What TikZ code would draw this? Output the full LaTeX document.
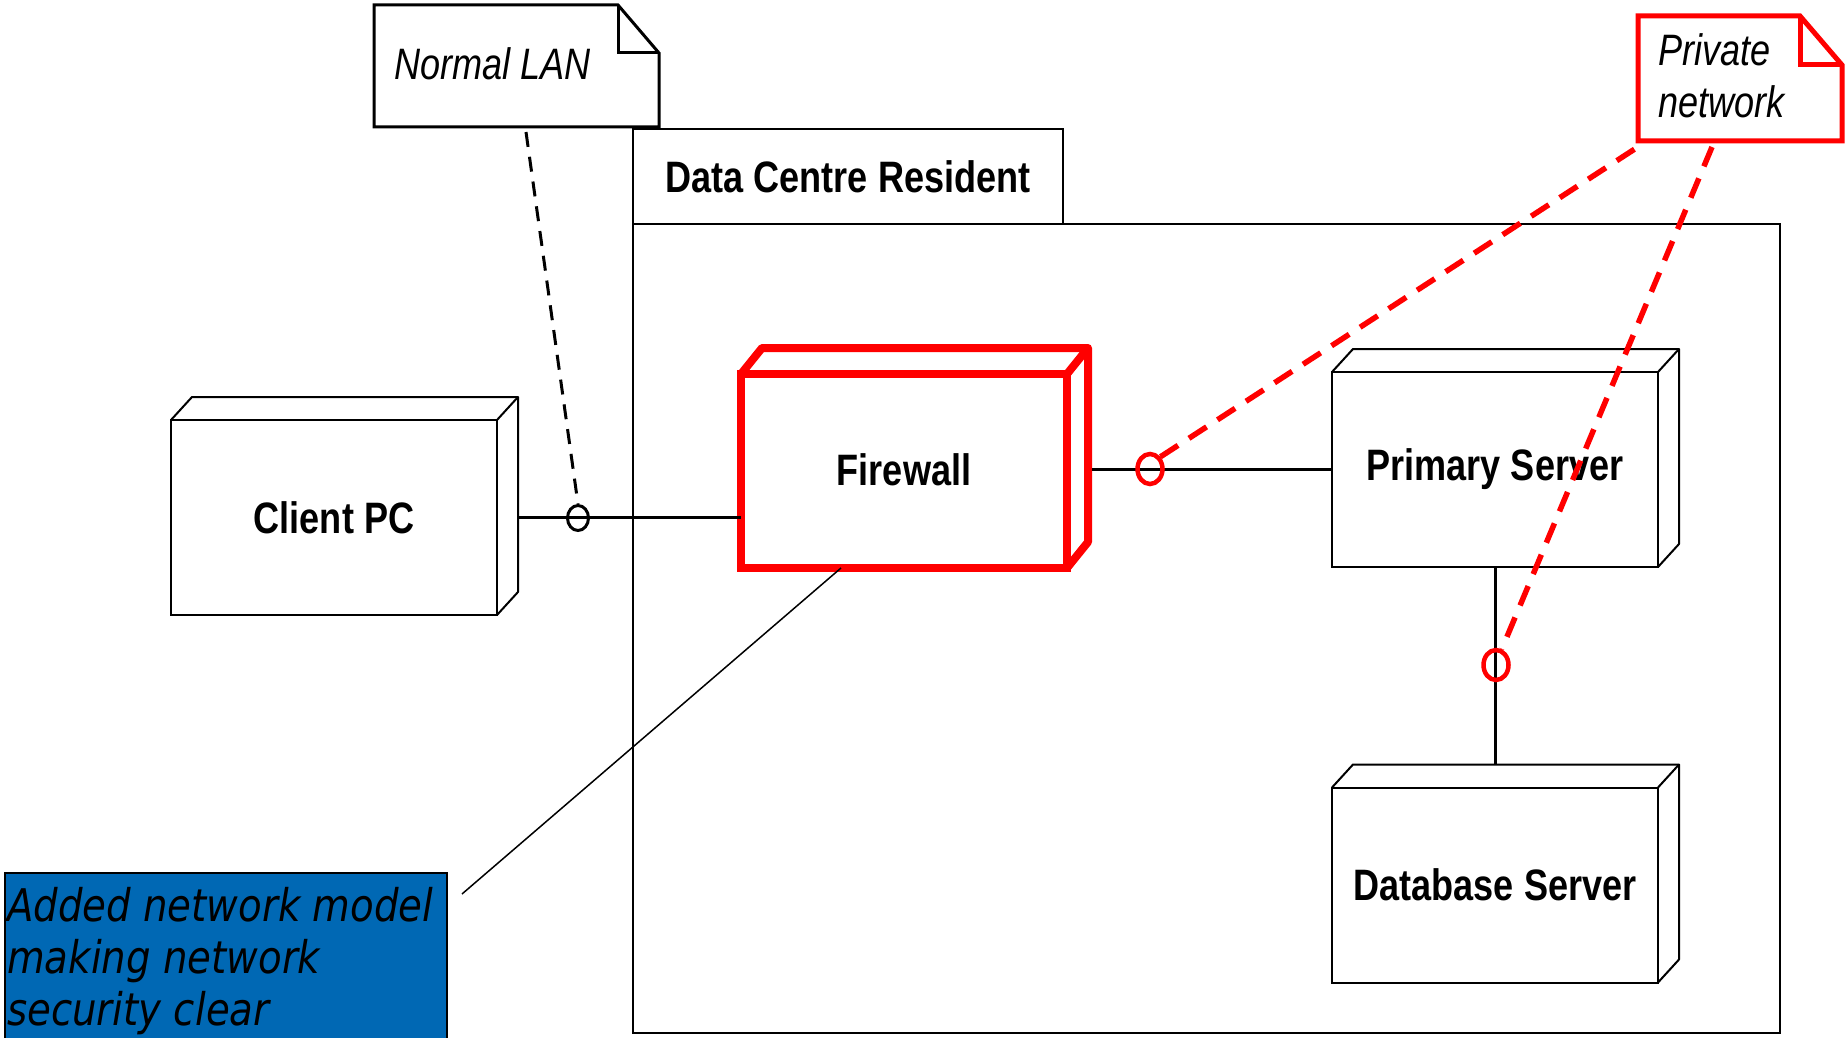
\documentclass[tikz,border=0pt]{standalone}
\usepackage{fontspec}
\setmainfont{Liberation Sans}
\newfontfamily\lblfont[FakeStretch=0.82]{Liberation Sans}
\newfontfamily\notefont[FakeStretch=0.86]{DejaVu Sans}
\usetikzlibrary{shapes.geometric}
\definecolor{noteblue}{RGB}{0,104,180}
\definecolor{netred}{RGB}{255,0,0}
\begin{document}
\begin{tikzpicture}[x=1pt,y=-1pt,
  lbl/.style={font=\lblfont\bfseries\fontsize{44}{53}\selectfont},
  nodebox/.style={draw, line width=2pt, fill=white, minimum width=326pt, minimum height=195pt, inner sep=0pt, outer sep=0pt, lbl},
  extr/.style={draw, line width=2pt, line join=round},
  conn/.style={line width=3pt},
  port/.style={draw, ellipse, line width=3pt, minimum width=21pt, minimum height=25pt, inner sep=0pt, fill=none},
  rport/.style={draw=netred, ellipse, line width=4.5pt, minimum width=25pt, minimum height=30pt, inner sep=0pt},
  bdash/.style={line width=3pt, dash pattern=on 15pt off 10pt},
  rdash/.style={draw=netred, line width=5.5pt, dash pattern=on 21pt off 13pt},
]
\useasboundingbox (0,0) rectangle (1845,1038);
\fill[white] (0,0) rectangle (1845,1038);

% package
\node[draw, line width=1.5pt, minimum width=430pt, minimum height=95pt, inner sep=0pt, outer sep=0pt, anchor=north west, lbl] (tab) at (633,129) {Data Centre Resident};
\node[draw, line width=1.5pt, minimum width=1147pt, minimum height=809pt, inner sep=0pt, outer sep=0pt, anchor=north west] (pkg) at (633,224) {};

% nodes
\node[nodebox] (client) at (334,517.5) {Client PC};
\draw[extr] (client.north west) -- ([shift={(21,-23)}]client.north west) -- ([shift={(21,-23)}]client.north east) -- ([shift={(21,-23)}]client.south east) -- (client.south east);
\draw[extr] (client.north east) -- ([shift={(21,-23)}]client.north east);

\node[nodebox, draw=netred, line width=8pt, minimum height=194pt] (fw) at (904,471) {\raisebox{2pt}{Firewall}};
\draw[extr, draw=netred, line width=8pt] (fw.north west) -- ([shift={(21,-26)}]fw.north west) -- ([shift={(21,-26)}]fw.north east) -- ([shift={(21,-26)}]fw.south east) -- (fw.south east);
\draw[extr, draw=netred, line width=8pt] (fw.north east) -- ([shift={(21,-26)}]fw.north east);

\node[nodebox] (prim) at (1495,469.5) {\raisebox{-2pt}{Primary Server}};
\draw[extr] (prim.north west) -- ([shift={(21,-23)}]prim.north west) -- ([shift={(21,-23)}]prim.north east) -- ([shift={(21,-23)}]prim.south east) -- (prim.south east);
\draw[extr] (prim.north east) -- ([shift={(21,-23)}]prim.north east);

\node[nodebox] (db) at (1495,885) {Database Server};
\draw[extr] (db.north west) -- ([shift={(21,-23)}]db.north west) -- ([shift={(21,-23)}]db.north east) -- ([shift={(21,-23)}]db.south east) -- (db.south east);
\draw[extr] (db.north east) -- ([shift={(21,-23)}]db.north east);

% connectors
\coordinate (clientport) at ([xshift=21pt]client.east);
\draw[conn] (clientport) -- (clientport -| fw.west);
\node[port] (p1) at (578,518) {};
\coordinate (fwport) at ([xshift=25pt]fw.east |- prim.west);
\draw[conn] (fwport) -- (prim.west);
\node[rport] (p2) at (1150,469) {};
\draw[conn] (prim.south) -- ([yshift=23pt]db.north);
\node[rport] (p3) at (1496,665) {};

% notes
\node[minimum width=285pt, minimum height=122pt, inner sep=0pt, outer sep=0pt] (lan) at (516.5,66) {};
\draw[line width=3pt, line join=miter, fill=white] (lan.south west) |- ([xshift=-41pt]lan.north east) -- ([yshift=-48pt]lan.north east) -- (lan.south east) -- cycle;
\draw[line width=3pt] ([xshift=-41pt]lan.north east) |- ([yshift=-48pt]lan.north east);
\node[anchor=base west, inner sep=0pt, font=\lblfont\itshape\fontsize{44}{53}\selectfont] (lantext) at (394,80) {Normal LAN};

\node[minimum width=204pt, minimum height=125pt, inner sep=0pt, outer sep=0pt] (pn) at (1740,78.5) {};
\draw[netred, line width=5pt, line join=miter, fill=white] (pn.south west) |- ([xshift=-42pt]pn.north east) -- ([yshift=-49pt]pn.north east) -- (pn.south east) -- cycle;
\draw[netred, line width=5pt] ([xshift=-42pt]pn.north east) |- ([yshift=-49pt]pn.north east);
\node[anchor=north west, inner sep=0pt, align=left, font=\lblfont\itshape\fontsize{44}{52}\selectfont] (pntext) at (1658,33) {Private\\network};

\draw[bdash] ([xshift=152pt,yshift=-5pt]lan.south west) -- (p1.north);
\draw[rdash] (p2.north east) -- ([xshift=6pt,yshift=-2pt]pn.south west);
\draw[rdash] ([xshift=74pt,yshift=-6pt]pn.south west) -- (p3.70);

% blue note
\node[draw, line width=1.5pt, fill=noteblue, minimum width=442pt, minimum height=200pt, inner sep=0pt, outer sep=0pt, anchor=north west] (blue) at (5,873) {};
\node[anchor=north west, inner sep=0pt, align=left, font=\notefont\itshape\fontsize{45}{52}\selectfont] (bluetext) at (7,887) {Added network model\\making network\\security clear};
\coordinate (bluelink) at (462,894);
\draw[line width=1.5pt] (bluelink) -- ([xshift=-63pt]fw.south);
\end{tikzpicture}
\end{document}
